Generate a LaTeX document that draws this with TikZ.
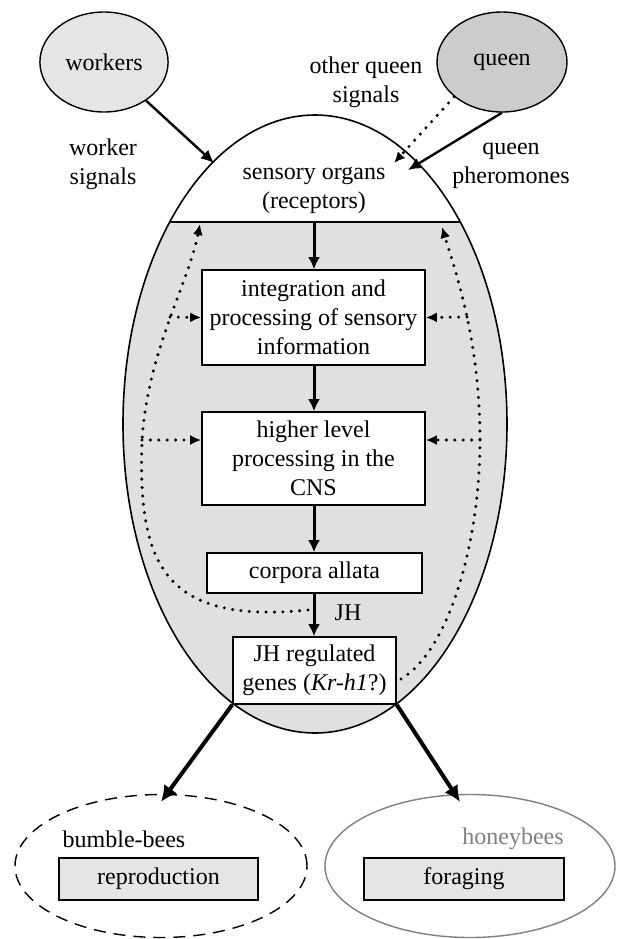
\documentclass[tikz,border=0pt]{standalone}
\usepackage{fontspec}
\setmainfont{Liberation Serif}
\usetikzlibrary{arrows.meta,shapes.geometric}

\definecolor{lightgr}{gray}{0.9}
\definecolor{queengr}{gray}{0.8}
\definecolor{bodygr}{gray}{0.88}

\begin{document}
\begin{tikzpicture}[x=0.5pt, y=-0.5pt,
  every node/.style = {font=\fontsize{12}{14.5}\selectfont, align=center},
  blob/.style = {ellipse, draw, line width=0.7pt},
  box/.style = {rectangle, draw, fill=white, line width=0.8pt, inner sep=0pt},
  arr/.style = {line width=1.2pt, -{Latex[length=6.5pt,width=6pt]}},
  varr/.style = {line width=1.5pt, -{Latex[length=6pt,width=6pt]}},
  fatarr/.style = {line width=2pt, -{Latex[length=8pt,width=8pt]}},
  dotarr/.style = {line width=1.7pt, line cap=round, dash pattern=on 0pt off 4.2pt,
    -{Latex[length=5.5pt,width=5pt]}}]

  \useasboundingbox (0,0) rectangle (618,939);

  % the bee
  \fill[bodygr] (315,424) ellipse [x radius=192, y radius=309];
  \begin{scope}
    \clip (0,0) rectangle (618,222);
    \fill[white] (315,424) ellipse [x radius=192, y radius=309];
  \end{scope}
  \draw[line width=0.8pt] (315,424) ellipse [x radius=192, y radius=309];
  \coordinate (sl) at (170,222);
  \coordinate (sr) at (460,222);
  \coordinate (sc) at (314,222);
  \draw[line width=0.8pt] (sl) -- (sr);
  \node (sense) at (314,190) {sensory organs\\(receptors)};

  % signals
  \node[blob, fill=lightgr, minimum width=64pt, minimum height=50pt] (workers) at (104,62) {workers};
  \node[blob, fill=queengr, minimum width=65pt, minimum height=50pt] (queen) at (502,62) {queen};
  \node (wsig) at (103,164) {worker\\signals};
  \node (oqs) at (366,82) {other queen\\signals};
  \node (qph) at (511,166) {queen\\pheromones};
  \coordinate (wtip) at (214,163);
  \coordinate (qtip) at (408,170);
  \coordinate (otip) at (394,163);
  \draw[arr] (workers) -- (wtip);
  \draw[arr] (queen.south) -- (qtip);
  \draw[dotarr] (queen.216) -- (otip);

  % chain inside
  \node[box, minimum width=111.5pt, minimum height=47.5pt] (integ) at (313.5,317.5)
    {integration and\\processing of sensory\\information};
  \node[box, minimum width=111.5pt, minimum height=46.5pt] (cns) at (313.5,458.5)
    {higher level\\processing in the\\CNS};
  \node[box, minimum width=107.5pt, minimum height=20pt] (ca) at (314.5,573) {corpora allata};
  \node[box, minimum width=81.5pt, minimum height=33.5pt] (genes) at (314.5,670.5)
    {JH regulated\\genes (\emph{Kr-h1}?)};
  \node (jh) at (348,613) {JH};
  \draw[varr] (sc) -- (sc |- integ.north);
  \draw[varr] (sc |- integ.south) -- (sc |- cns.north);
  \draw[varr] (sc |- cns.south) -- (sc |- ca.north);
  \draw[varr] (sc |- ca.south) -- (sc |- genes.north);

  % feedback loops
  \coordinate (lstart) at (308,610);
  \coordinate (lb2) at (142,440);
  \coordinate (lb1) at (170,317);
  \coordinate (ltip) at (200,224);
  \coordinate (rstart) at (401,679);
  \coordinate (rb2) at (480,440);
  \coordinate (rb1) at (467,317);
  \coordinate (rtip) at (442,227);
  \draw[dotarr] (lstart) .. controls (160,625) and (138,560) .. (lb2)
    .. controls (148,350) and (188,285) .. (ltip);
  \draw[dotarr] (rstart) .. controls (450,650) and (480,540) .. (rb2)
    .. controls (480,340) and (455,270) .. (rtip);
  \draw[dotarr] (lb1) -- (integ.west);
  \draw[dotarr] (rb1) -- (integ.east);
  \draw[dotarr] (lb2) -- (lb2 -| cns.west);
  \draw[dotarr] (rb2) -- (rb2 -| cns.east);

  % outcomes
  \node[blob, dashed, dash pattern=on 6pt off 4pt, minimum width=146pt, minimum height=71.5pt] (bumble) at (161,866) {};
  \node[blob, draw=gray, minimum width=145pt, minimum height=71.5pt] (honey) at (470,866) {};
  \node (bb) at (124,839) {bumble-bees};
  \node[text=gray] (hb) at (513,839) {honeybees};
  \node[box, fill=lightgr, minimum width=99.5pt, minimum height=21pt] (repro) at (158.5,879) {reproduction};
  \node[box, fill=lightgr, minimum width=100pt, minimum height=21pt] (forage) at (464,879) {foraging};
  \draw[fatarr] (genes.south west) -- ([yshift=-4pt]bumble.north);
  \draw[fatarr] (genes.south east) -- ([shift={(-5pt,-4pt)}]honey.north);
\end{tikzpicture}
\end{document}
